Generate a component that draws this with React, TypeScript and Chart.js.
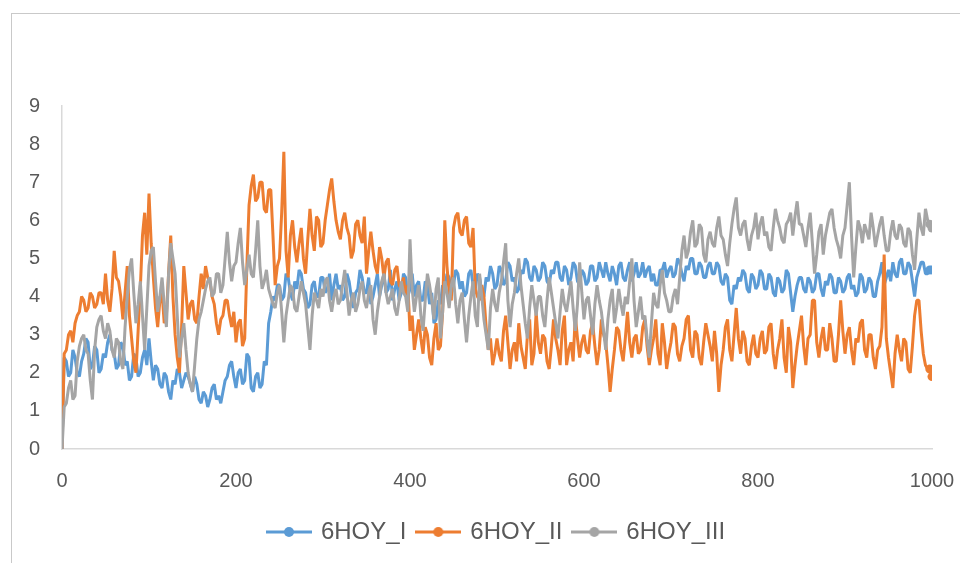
import React, { useEffect, useRef } from "react";
import { Chart, registerables } from "chart.js";

Chart.register(...registerables);

// x positions are every 2.5 units from 0 to 1000
const X_STEP = 2.5;
const X_MIN = 0;
const X_MAX = 1000;
const X_TICK_STEP = 200;
const Y_MIN = 0;
const Y_MAX = 9;

const SERIES_NAMES = ["6HOY_I", "6HOY_II", "6HOY_III"];
const SERIES_COLORS = ["#5B9BD5", "#ED7D31", "#A5A5A5"];

const HOY_I = [
  0, 2.4, 2.3, 1.9, 2.0, 2.6, 2.4, 2.0, 1.9, 2.3, 2.5, 2.9, 2.8, 2.1, 2.2, 2.7, 2.6, 2.0, 2.1, 2.5,
  2.4, 2.8, 3.0, 2.6, 2.5, 2.1, 2.2, 2.8, 2.7, 2.2, 2.3, 1.8, 1.9, 2.5, 2.4, 1.9, 2.0, 2.4, 2.6, 2.2,
  2.9, 2.3, 1.8, 2.2, 2.1, 1.7, 1.6, 2.0, 1.9, 1.5, 1.3, 1.8, 1.7, 2.1, 2.0, 1.6, 1.8, 2.0, 1.9, 1.7,
  1.5, 1.9, 1.7, 1.3, 1.2, 1.5, 1.4, 1.1, 1.3, 1.6, 1.7, 1.3, 1.4, 1.2, 1.5, 1.8, 1.9, 2.2, 2.3, 1.9,
  1.6, 2.0, 2.1, 1.7, 1.8, 2.5, 2.4, 1.6, 1.5, 1.9, 2.0, 1.6, 1.7, 2.3, 2.2, 3.3, 3.6, 4.0, 3.9, 4.3,
  4.3, 3.9, 4.0, 4.6, 4.5, 4.1, 3.9, 4.4, 4.2, 4.7, 4.6, 4.2, 4.1, 3.7, 3.8, 4.3, 4.4, 4.0, 4.0, 4.5,
  4.5, 4.1, 4.2, 4.6, 3.9, 4.3, 4.6, 4.2, 4.3, 3.9, 4.0, 4.6, 4.4, 4.0, 3.7, 4.1, 4.2, 4.7, 4.5, 4.1,
  4.1, 4.5, 3.8, 4.0, 4.3, 4.6, 4.0, 4.3, 4.6, 4.1, 4.2, 4.7, 3.9, 4.2, 4.4, 3.9, 4.1, 4.6, 4.5, 4.0,
  4.2, 4.6, 4.0, 4.3, 4.4, 3.9, 3.9, 4.4, 4.3, 3.8, 4.1, 3.3, 3.4, 3.9, 3.8, 4.3, 4.2, 4.6, 4.5, 4.1,
  4.3, 4.7, 4.6, 4.2, 4.4, 4.0, 4.1, 4.6, 4.7, 4.3, 4.2, 4.6, 4.5, 4.1, 4.0, 4.5, 4.4, 4.8, 4.6, 4.2,
  4.3, 4.8, 4.7, 4.3, 4.4, 4.9, 4.8, 4.4, 4.5, 4.1, 4.2, 4.7, 4.6, 5.0, 4.9, 4.5, 4.4, 4.8, 4.7, 4.4,
  4.5, 4.9, 4.8, 4.4, 4.3, 4.7, 4.6, 4.9, 4.9, 4.5, 4.4, 4.8, 4.7, 4.3, 4.5, 4.9, 4.8, 4.4, 4.3, 4.7,
  4.6, 4.3, 4.4, 4.8, 4.8, 4.4, 4.5, 4.9, 4.7, 4.5, 4.9, 4.6, 4.4, 4.8, 4.6, 4.3, 4.8, 4.9, 4.5, 4.4,
  4.7, 4.9, 4.4, 4.6, 4.9, 4.5, 4.6, 4.9, 4.5, 4.7, 4.8, 4.4, 4.6, 4.3, 4.3, 4.7, 4.7, 4.9, 4.5, 4.7,
  4.8, 4.5, 4.6, 5.0, 4.9, 4.6, 4.4, 4.8, 4.7, 5.0, 5.0, 4.6, 4.6, 4.9, 4.8, 4.5, 4.5, 4.8, 4.9, 4.6,
  4.6, 4.9, 4.8, 4.4, 4.3, 4.6, 4.5, 3.9, 3.8, 4.3, 4.2, 4.5, 4.4, 4.7, 4.6, 4.2, 4.1, 4.6, 4.5, 4.2,
  4.3, 4.7, 4.6, 4.2, 4.2, 4.6, 4.5, 4.1, 4.0, 4.5, 4.4, 4.1, 4.2, 4.7, 4.6, 4.1, 3.6, 4.0, 4.3, 4.5,
  4.5, 4.2, 4.1, 4.5, 4.4, 4.1, 4.2, 4.6, 4.6, 4.2, 4.0, 4.4, 4.3, 4.6, 4.5, 4.1, 4.1, 4.5, 4.4, 4.1,
  4.2, 4.5, 4.6, 4.2, 4.3, 4.0, 4.1, 4.6, 4.5, 4.1, 4.2, 4.5, 4.4, 4.0, 4.0, 4.4, 4.6, 4.9, 4.3, 4.5,
  4.7, 4.4, 4.9, 4.6, 4.5, 4.9, 5.0, 4.6, 4.6, 4.9, 4.8, 4.4, 4.0, 4.5, 4.7, 4.9, 4.9, 4.6, 4.6, 4.7,
  4.7,
];

const HOY_II = [
  0, 2.5, 2.6, 3.0, 3.1, 2.8, 3.3, 3.5, 3.6, 4.0, 3.9, 3.6, 3.7, 4.1, 4.0, 3.7, 3.8, 4.1, 4.1, 3.8,
  4.6, 3.9, 3.6, 4.2, 5.2, 4.5, 4.4, 4.0, 3.4, 4.1, 4.8, 3.5, 2.9, 2.3, 2.0, 3.1, 4.2, 5.6, 6.2, 5.1,
  6.7, 5.4, 4.5, 3.7, 3.2, 3.9, 4.1, 3.3, 3.5, 4.6, 5.6, 4.0, 3.0, 2.4, 2.0, 3.2, 4.8, 4.1, 3.4, 3.8,
  3.9, 3.4, 3.3, 4.0, 4.6, 4.2, 4.8, 4.5, 4.4, 4.0, 3.8, 3.3, 3.0, 3.4, 3.5, 3.9, 3.9, 3.5, 3.2, 3.6,
  2.8, 3.3, 3.4, 2.7, 2.9, 4.8, 6.4, 6.9, 7.2, 6.5, 6.6, 7.0, 7.0, 6.3, 6.2, 6.8, 6.8, 5.6, 4.3, 4.8,
  5.0, 6.2, 7.8, 5.2, 4.5, 5.6, 6.0, 5.3, 4.9, 5.4, 5.8, 5.0, 4.6, 5.5, 6.3, 5.6, 5.2, 6.1, 6.0, 5.3,
  5.4, 6.0, 6.4, 6.8, 7.1, 6.5, 6.0, 5.7, 5.5, 6.0, 6.2, 5.8, 5.6, 5.0, 5.2, 5.9, 6.0, 5.6, 5.4, 6.1,
  4.6, 5.2, 5.7, 5.2, 4.8, 4.6, 5.3, 5.0, 4.5, 4.9, 5.0, 4.4, 4.3, 4.7, 4.8, 4.3, 4.2, 4.5, 4.0, 4.3,
  3.1, 3.5, 2.6, 3.0, 3.4, 2.9, 2.5, 3.2, 3.0, 2.4, 2.2, 2.9, 3.3, 2.6, 2.7, 3.6, 6.0, 4.8, 4.1, 3.9,
  5.8, 6.1, 6.2, 5.7, 5.6, 6.0, 6.1, 5.4, 5.3, 5.8, 4.2, 4.0, 3.9, 4.3, 4.0, 3.2, 2.6, 2.9, 2.2, 2.5,
  2.9, 2.5, 2.3, 3.1, 3.5, 2.8, 2.1, 2.6, 2.8, 2.3, 3.3, 2.7, 2.4, 2.1, 3.0, 3.4, 2.2, 2.5, 3.6, 2.8,
  2.5, 3.0, 2.9, 2.3, 2.1, 2.7, 3.4, 2.9, 2.6, 2.2, 3.1, 3.5, 2.2, 2.6, 2.8, 2.3, 3.5, 2.9, 2.4, 2.8,
  3.0, 2.6, 2.5, 3.1, 3.3, 2.7, 2.2, 2.6, 3.4, 3.0, 2.8, 2.2, 1.5, 2.1, 2.6, 3.2, 3.1, 2.6, 2.3, 2.9,
  3.6, 2.8, 2.4, 2.9, 3.0, 2.5, 2.6, 3.2, 3.4, 2.7, 2.2, 2.6, 2.9, 3.4, 2.5, 2.2, 3.3, 2.8, 2.1, 2.5,
  2.8, 3.3, 3.2, 2.5, 2.3, 2.7, 2.9, 3.4, 3.5, 2.6, 2.4, 3.1, 3.0, 2.4, 2.2, 2.8, 3.3, 3.0, 2.7, 2.3,
  3.1, 2.5, 1.5, 2.2, 2.6, 3.2, 3.4, 2.6, 2.3, 3.0, 3.7, 2.9, 2.5, 3.1, 2.9, 2.3, 2.2, 2.7, 3.0, 2.5,
  2.4, 2.9, 3.1, 2.5, 2.6, 3.2, 3.3, 2.5, 2.1, 2.6, 2.9, 3.4, 2.4, 2.0, 3.2, 2.8, 1.6, 2.2, 2.7, 3.1,
  3.5, 2.7, 2.2, 2.9, 3.0, 3.9, 3.9, 2.8, 2.4, 2.9, 3.2, 2.6, 2.6, 3.3, 2.9, 2.3, 2.3, 3.0, 3.9, 3.1,
  2.5, 3.0, 3.2, 2.6, 2.2, 2.9, 2.8, 3.3, 3.4, 2.6, 2.4, 3.0, 3.0, 2.4, 2.1, 2.6, 2.7, 3.2, 5.1, 2.9,
  2.4, 2.0, 1.6, 2.5, 3.0, 2.6, 2.3, 2.9, 2.8, 2.1, 2.0, 2.7, 3.5, 3.9, 3.9, 3.1, 2.5, 2.2, 2.1, 2.1,
  1.9,
];

const HOY_III = [
  0, 1.1, 1.2, 1.6, 1.8, 1.3, 1.4, 2.3, 2.7, 2.9, 3.0, 2.6, 2.5, 1.8, 1.3, 2.6, 3.2, 3.4, 3.5, 3.1,
  2.9, 3.3, 3.1, 2.6, 2.4, 2.9, 2.8, 2.3, 2.1, 3.2, 4.0, 4.7, 5.0, 4.1, 3.3, 3.8, 4.4, 3.5, 2.6, 3.7,
  4.8, 5.2, 5.3, 4.4, 3.6, 4.0, 4.5, 3.8, 3.2, 4.6, 5.4, 5.0, 4.6, 3.5, 2.4, 2.9, 3.3, 2.6, 2.0, 1.7,
  1.5, 2.2, 2.9, 3.4, 3.6, 3.9, 4.2, 4.4, 4.5, 4.0, 4.1, 4.6, 4.6, 4.1, 4.3, 5.0, 5.7, 4.9, 4.4, 4.8,
  4.9, 5.4, 5.8, 4.9, 4.3, 4.7, 5.1, 4.6, 4.5, 5.2, 6.0, 4.8, 4.2, 4.4, 4.7, 4.2, 4.0, 3.8, 3.7, 4.1,
  4.3, 3.6, 2.8, 3.5, 3.9, 4.3, 4.2, 3.7, 3.6, 4.0, 4.4, 4.1, 3.8, 3.2, 2.6, 3.5, 4.1, 3.9, 3.7, 4.2,
  4.0, 4.4, 4.5, 3.9, 3.6, 4.0, 4.2, 3.8, 3.9, 4.3, 4.7, 4.1, 3.5, 3.9, 4.1, 3.6, 3.8, 4.2, 4.4, 3.9,
  3.7, 4.1, 4.3, 3.4, 3.0, 3.6, 4.0, 4.4, 4.6, 4.1, 3.8, 4.0, 4.2, 3.7, 3.5, 3.9, 4.4, 4.1, 4.0, 3.6,
  5.5, 4.2, 3.6, 4.0, 4.3, 3.5, 3.1, 3.9, 4.6, 4.3, 3.9, 3.4, 4.2, 4.5, 2.9, 3.6, 4.4, 4.1, 3.7, 4.3,
  4.5, 3.8, 3.3, 3.9, 4.1, 3.4, 2.8, 3.5, 4.0, 4.4, 3.5, 3.2, 4.6, 4.0, 3.4, 3.0, 2.6, 3.7, 4.2, 3.8,
  3.6, 4.1, 4.4, 4.9, 5.4, 3.9, 3.2, 3.8, 4.1, 4.6, 5.0, 4.3, 3.8, 3.3, 2.9, 3.7, 4.3, 3.9, 3.5, 4.0,
  4.0, 3.5, 3.2, 3.9, 4.5, 4.1, 3.7, 3.3, 2.9, 3.6, 4.2, 3.8, 3.6, 4.0, 4.4, 3.7, 3.1, 3.8, 4.9, 4.1,
  3.4, 3.9, 4.0, 3.5, 3.0, 3.8, 4.3, 3.9, 3.6, 3.1, 2.6, 3.4, 3.9, 4.2, 3.3, 3.7, 4.2, 3.8, 3.5, 4.0,
  3.8, 4.4, 5.0, 3.9, 3.2, 3.6, 4.0, 3.4, 3.5, 2.9, 2.4, 3.3, 4.1, 3.8, 3.7, 4.3, 4.7, 4.1, 3.9, 3.6,
  3.6, 4.0, 4.2, 3.8, 4.5, 5.2, 5.6, 5.0, 5.2, 5.7, 6.0, 5.3, 5.4, 5.9, 5.8, 5.1, 4.9, 5.5, 5.7, 5.4,
  5.3, 5.8, 6.1, 5.6, 5.5, 5.1, 4.8, 5.4, 5.9, 6.3, 6.6, 5.8, 5.6, 5.9, 6.0, 5.5, 5.2, 5.6, 5.8, 6.2,
  5.5, 5.9, 6.1, 5.6, 5.7, 5.3, 5.2, 5.8, 6.3, 6.0, 5.8, 5.5, 5.4, 5.9, 6.0, 6.2, 5.6, 6.1, 6.5, 5.9,
  5.9, 5.6, 5.3, 5.8, 6.2, 5.4, 4.6, 5.1, 5.7, 5.9, 5.1, 5.6, 5.9, 6.2, 6.3, 5.8, 5.5, 5.3, 5.0, 5.6,
  5.8, 6.4, 7.0, 5.6, 4.5, 5.3, 6.0, 5.8, 5.4, 5.9, 5.7, 5.5, 6.2, 5.8, 5.3, 5.6, 5.9, 6.1, 5.6, 5.2,
  5.2, 5.7, 6.0, 5.6, 5.5, 5.9, 5.8, 5.4, 5.3, 5.8, 5.7, 5.1, 4.7, 5.5, 6.2, 5.8, 5.6, 6.3, 6.0, 5.9,
  5.8,
];

const SERIES_VALUES = [HOY_I, HOY_II, HOY_III];

const FONT_FAMILY = "'Liberation Sans', Arial, sans-serif";
const TEXT_COLOR = "#595959";
const AXIS_COLOR = "#d9d9d9";

function makeLegendIcon(color: string): HTMLCanvasElement {
  const c = document.createElement("canvas");
  c.width = 46;
  c.height = 12;
  const g = c.getContext("2d")!;
  g.strokeStyle = color;
  g.lineWidth = 3;
  g.beginPath();
  g.moveTo(0, 6);
  g.lineTo(46, 6);
  g.stroke();
  g.fillStyle = color;
  g.beginPath();
  g.arc(23, 6, 5, 0, Math.PI * 2);
  g.fill();
  return c;
}

export default function App() {
  const ref = useRef<HTMLCanvasElement | null>(null);

  useEffect(() => {
    if (!ref.current) return;
    const icons = SERIES_COLORS.map(makeLegendIcon);
    const datasets = SERIES_VALUES.map((vals, si) => ({
      label: SERIES_NAMES[si],
      data: vals.map((v, i) => ({ x: X_MIN + i * X_STEP, y: v })),
      borderColor: SERIES_COLORS[si],
      backgroundColor: SERIES_COLORS[si],
      borderWidth: 3,
      tension: 0,
      fill: false,
      order: 3 - si,
      borderJoinStyle: "bevel" as const,
      pointRadius: (ctx: any) => (ctx.dataIndex >= vals.length - 2 ? 4.5 : 0),
      pointBorderWidth: 0,
      pointHoverRadius: 0,
    }));

    const chart = new Chart(ref.current, {
      type: "line",
      data: { datasets },
      options: {
        animation: false,
        responsive: false,
        maintainAspectRatio: false,
        events: [],
        layout: { padding: { top: 106, right: 28, left: 0, bottom: 9 } },
        plugins: {
          tooltip: { enabled: false },
          legend: {
            display: true,
            position: "bottom",
            fullSize: false,
            labels: {
              usePointStyle: true,
              pointStyleWidth: 40,
              padding: 12,
              color: TEXT_COLOR,
              font: { family: FONT_FAMILY, size: 24 },
              generateLabels: () =>
                SERIES_NAMES.map((name, i) => ({
                  text: name,
                  fillStyle: SERIES_COLORS[i],
                  strokeStyle: SERIES_COLORS[i],
                  lineWidth: 0,
                  pointStyle: icons[i],
                  datasetIndex: i,
                  hidden: false,
                  fontColor: TEXT_COLOR,
                })),
            },
          },
        },
        scales: {
          x: {
            type: "linear",
            min: X_MIN,
            max: X_MAX,
            grid: { display: false, drawTicks: false },
            border: { display: true, color: AXIS_COLOR, width: 1.5 },
            ticks: {
              stepSize: X_TICK_STEP,
              padding: 20,
              color: TEXT_COLOR,
              font: { family: FONT_FAMILY, size: 20 },
              maxRotation: 0,
              callback: (v: any) => String(v),
            },
            afterFit: (scale: any) => {
              scale.height = 59;
              scale.paddingLeft = 0;
              scale.paddingRight = 0;
            },
          },
          y: {
            min: Y_MIN,
            max: Y_MAX,
            grid: { display: false, drawTicks: false },
            border: { display: true, color: AXIS_COLOR, width: 1.5 },
            ticks: {
              stepSize: 1,
              padding: 22,
              color: TEXT_COLOR,
              font: { family: FONT_FAMILY, size: 20 },
              callback: (v: any) => String(v),
            },
            afterFit: (scale: any) => {
              scale.width = 62;
            },
          },
        },
      },
    });
    return () => chart.destroy();
  }, []);

  return (
    <div
      style={{
        position: "fixed",
        left: 0,
        top: 0,
        width: 960,
        height: 563,
        background: "#ffffff",
        overflow: "hidden",
      }}
    >
      <div
        style={{
          position: "absolute",
          left: 11,
          top: 13,
          width: 960,
          height: 560,
          borderTop: "1.5px solid #c9c9c9",
          borderLeft: "1.5px solid #c9c9c9",
        }}
      />
      <canvas
        ref={ref}
        width={960}
        height={563}
        style={{ position: "absolute", left: 0, top: 0, width: 960, height: 563 }}
      />
    </div>
  );
}
